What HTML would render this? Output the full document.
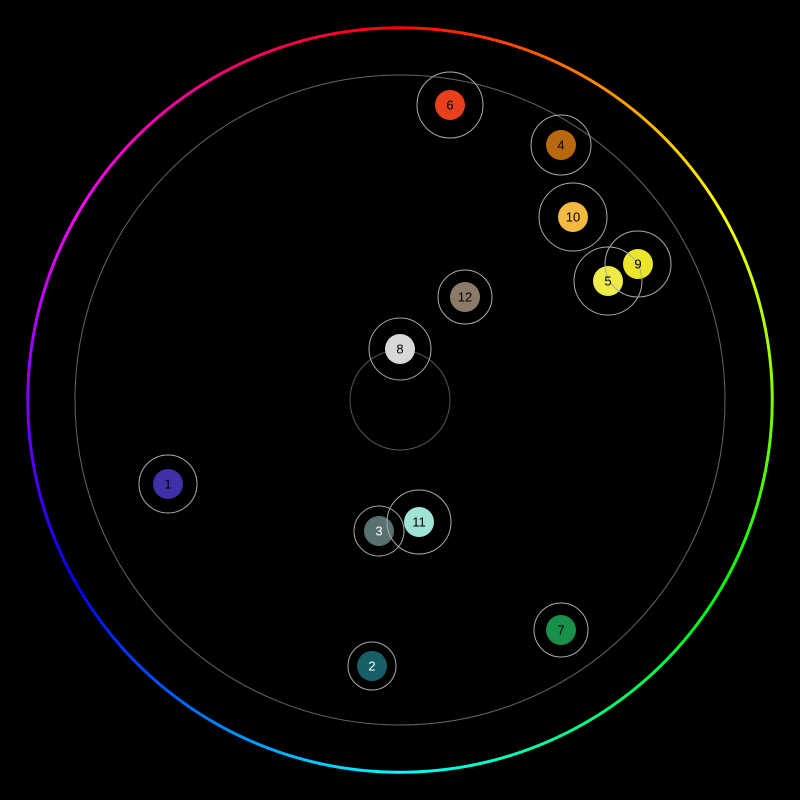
<!DOCTYPE html>
<html><head><style>
html,body{margin:0;padding:0;background:#000;width:800px;height:800px;overflow:hidden}
#ring{position:absolute;left:26px;top:26px;width:748px;height:748px;border-radius:50%;
background:conic-gradient(from 0deg,#f00,#ff0 60deg,#0f0 120deg,#0ff 180deg,#00f 240deg,#f0f 300deg,#f00 360deg);
-webkit-mask:radial-gradient(circle,transparent 370.5px,#000 371px,#000 373.5px,transparent 374px);
mask:radial-gradient(circle,transparent 370.5px,#000 371px,#000 373.5px,transparent 374px)}
svg{position:absolute;left:0;top:0}
text{font-family:"Liberation Sans",sans-serif;font-size:13px;text-anchor:middle;dominant-baseline:central}
</style></head><body>
<div id="ring"></div>
<svg width="800" height="800">
<circle cx="400" cy="400" r="325" fill="none" stroke="#666" stroke-width="1"/>
<circle cx="400" cy="400" r="50" fill="none" stroke="#555" stroke-width="1"/>
<g>
<circle cx="450" cy="105" r="15" fill="#e8401c"/>
<circle cx="561" cy="145" r="15" fill="#b8680f"/>
<circle cx="573" cy="217" r="15" fill="#f2ba40"/>
<circle cx="638" cy="264" r="15" fill="#ece62a"/>
<circle cx="608" cy="281" r="15" fill="#eeea48"/>
<circle cx="465" cy="297" r="15" fill="#8c7a68"/>
<circle cx="400" cy="349" r="15" fill="#d8d8d8"/>
<circle cx="168" cy="484" r="15" fill="#4030a8"/>
<circle cx="379" cy="531" r="15" fill="#587070"/>
<circle cx="419" cy="522" r="15" fill="#a0e4d8"/>
<circle cx="561" cy="630" r="15" fill="#189048"/>
<circle cx="372" cy="666" r="15" fill="#186068"/>
</g>
<g fill="none" stroke="#aaa" stroke-width="1">
<circle cx="450" cy="105" r="33"/>
<circle cx="561" cy="145" r="30"/>
<circle cx="573" cy="217" r="34"/>
<circle cx="638" cy="264" r="33"/>
<circle cx="608" cy="281" r="34"/>
<circle cx="465" cy="297" r="27"/>
<circle cx="400" cy="349" r="31"/>
<circle cx="168" cy="484" r="29"/>
<circle cx="379" cy="531" r="25"/>
<circle cx="419" cy="522" r="32"/>
<circle cx="561" cy="630" r="27"/>
<circle cx="372" cy="666" r="24"/>
</g>
<g>
<text x="450" y="105" fill="#000">6</text>
<text x="561" y="145" fill="#000">4</text>
<text x="573" y="217" fill="#000">10</text>
<text x="638" y="264" fill="#000">9</text>
<text x="608" y="281" fill="#000">5</text>
<text x="465" y="297" fill="#000">12</text>
<text x="400" y="349" fill="#000">8</text>
<text x="168" y="484" fill="#000">1</text>
<text x="379" y="531" fill="#fff">3</text>
<text x="419" y="522" fill="#000">11</text>
<text x="561" y="630" fill="#000">7</text>
<text x="372" y="666" fill="#fff">2</text>
</g>
</svg>
</body></html>
